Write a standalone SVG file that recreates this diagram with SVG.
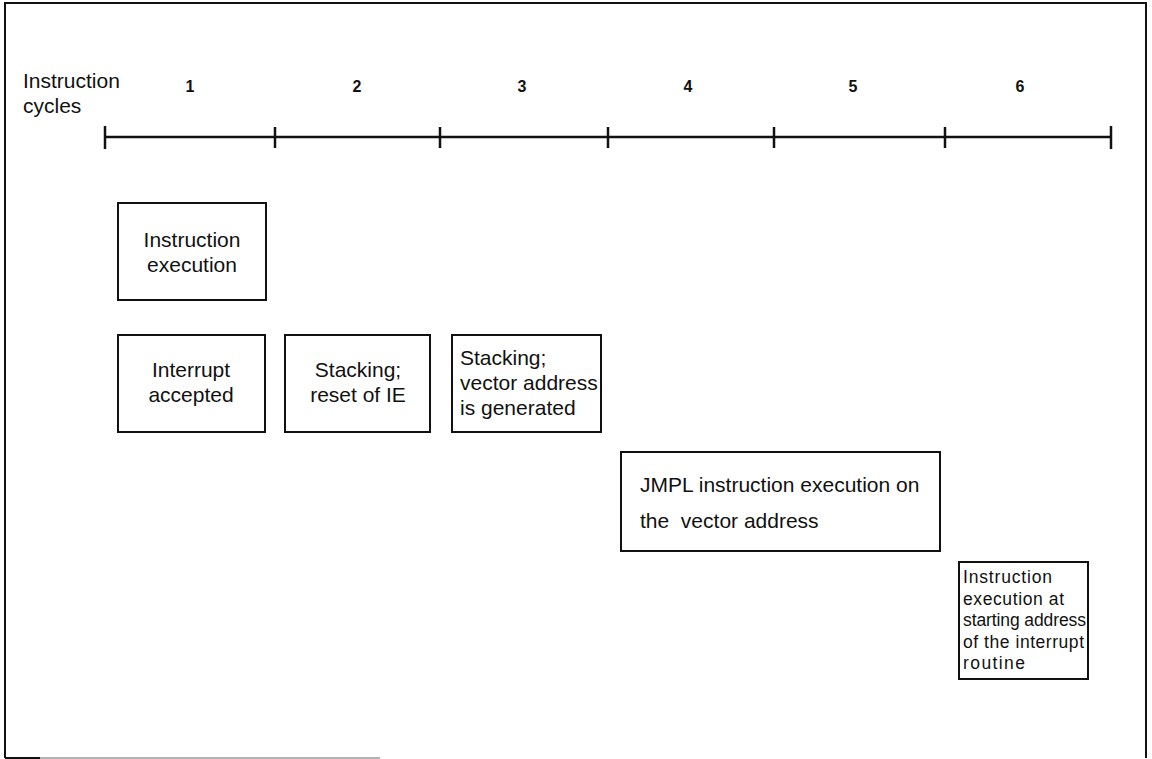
<svg xmlns="http://www.w3.org/2000/svg" width="1152" height="759" viewBox="0 0 1152 759">
<style>
  .txt { font-family: "Liberation Sans", Arial, sans-serif; font-size: 21px; fill: #111; }
  .num { font-family: "Liberation Sans", Arial, sans-serif; font-size: 16px; font-weight: bold; fill: #111; text-anchor: middle; }
  .small { font-size: 17.5px; }
  .mid { text-anchor: middle; }
  .box { fill: none; stroke: #111; stroke-width: 2; }
  .axis { stroke: #111; stroke-width: 2.5; fill: none; }
</style>
<rect x="0" y="0" width="1152" height="759" fill="#ffffff"/>
<g id="frame">
  <path d="M5,758 L5,3 L1146,3 L1146,758" fill="none" stroke="#111" stroke-width="2"/>
  <line x1="5" y1="758" x2="40" y2="758" stroke="#111" stroke-width="2"/>
  <line x1="40" y1="758" x2="380" y2="758" stroke="#999" stroke-width="1.5"/>
</g>
<g id="axis">
  <text class="txt" x="23" y="88">Instruction</text>
  <text class="txt" x="23" y="113">cycles</text>
  <text class="num" x="190" y="92">1</text>
  <text class="num" x="357" y="92">2</text>
  <text class="num" x="522" y="92">3</text>
  <text class="num" x="688" y="92">4</text>
  <text class="num" x="853" y="92">5</text>
  <text class="num" x="1020" y="92">6</text>
  <line class="axis" x1="105" y1="137" x2="1111" y2="137"/>
  <line class="axis" x1="105" y1="126" x2="105" y2="149"/>
  <line class="axis" x1="275" y1="127" x2="275" y2="148"/>
  <line class="axis" x1="440" y1="127" x2="440" y2="148"/>
  <line class="axis" x1="608" y1="127" x2="608" y2="148"/>
  <line class="axis" x1="774" y1="127" x2="774" y2="148"/>
  <line class="axis" x1="945" y1="127" x2="945" y2="148"/>
  <line class="axis" x1="1111" y1="126" x2="1111" y2="149"/>
</g>
<g id="connectors"></g>
<g id="n1">
  <rect class="box" x="118" y="203" width="148" height="97"/>
  <text class="txt mid" x="192" y="247">Instruction</text>
  <text class="txt mid" x="192" y="272">execution</text>
</g>
<g id="n2">
  <rect class="box" x="118" y="335" width="147" height="97"/>
  <text class="txt mid" x="191" y="377">Interrupt</text>
  <text class="txt mid" x="191" y="402">accepted</text>
</g>
<g id="n3">
  <rect class="box" x="285" y="335" width="145" height="97"/>
  <text class="txt mid" x="358" y="377">Stacking;</text>
  <text class="txt mid" x="358" y="402">reset of IE</text>
</g>
<g id="n4">
  <rect class="box" x="452" y="335" width="149" height="97"/>
  <text class="txt" x="460" y="365">Stacking;</text>
  <text class="txt" x="460" y="390">vector address</text>
  <text class="txt" x="460" y="415">is generated</text>
</g>
<g id="n5">
  <rect class="box" x="621" y="452" width="319" height="99"/>
  <text class="txt" x="640" y="492">JMPL instruction execution on</text>
  <text class="txt" x="640" y="528" xml:space="preserve">the  vector address</text>
</g>
<g id="n6">
  <rect class="box" x="959" y="562" width="129" height="117"/>
  <text class="txt small" x="963" y="583" textLength="89" lengthAdjust="spacing">Instruction</text>
  <text class="txt small" x="963" y="604.5" textLength="101" lengthAdjust="spacing">execution at</text>
  <text class="txt small" x="963" y="626" textLength="123" lengthAdjust="spacing">starting address</text>
  <text class="txt small" x="963" y="647.5" textLength="121" lengthAdjust="spacing">of the interrupt</text>
  <text class="txt small" x="963" y="669" textLength="62" lengthAdjust="spacing">routine</text>
</g>
</svg>
